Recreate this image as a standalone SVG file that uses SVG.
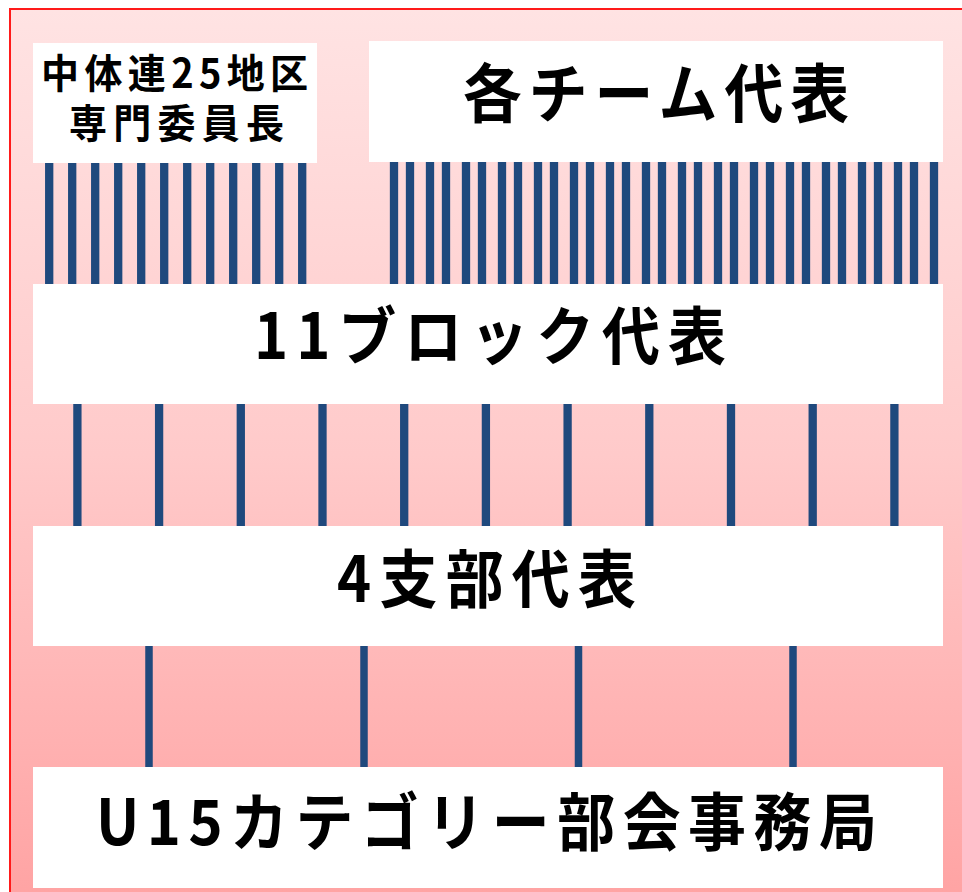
<svg xmlns="http://www.w3.org/2000/svg" width="962" height="892" viewBox="0 0 962 892">
  <defs>
    <linearGradient id="bg" x1="0" y1="0" x2="0" y2="1">
      <stop offset="0" stop-color="#FFE3E3"/>
      <stop offset="0.5" stop-color="#FFCACA"/>
      <stop offset="1" stop-color="#FFA3A3"/>
    </linearGradient>
  </defs>
  <style>
    .box { fill: #FFFFFF; }
    .lbl { font-family: "Noto Sans CJK JP", "Noto Sans", sans-serif; font-weight: 700; fill: #000000; }
    .conn line { stroke: #1F497D; }
    .thick { stroke-width: 8.3; }
  </style>
  <rect x="10" y="9" width="962" height="892" fill="url(#bg)" stroke="#FF1A1A" stroke-width="2"/>

  <g id="connectors" class="conn">
    <g class="thick">
      <line x1="49.2" y1="160" x2="49.2" y2="286"/>
      <line x1="72.2" y1="160" x2="72.2" y2="286"/>
      <line x1="95.2" y1="160" x2="95.2" y2="286"/>
      <line x1="118.2" y1="160" x2="118.2" y2="286"/>
      <line x1="141.2" y1="160" x2="141.2" y2="286"/>
      <line x1="164.2" y1="160" x2="164.2" y2="286"/>
      <line x1="187.2" y1="160" x2="187.2" y2="286"/>
      <line x1="210.2" y1="160" x2="210.2" y2="286"/>
      <line x1="233.2" y1="160" x2="233.2" y2="286"/>
      <line x1="256.2" y1="160" x2="256.2" y2="286"/>
      <line x1="279.2" y1="160" x2="279.2" y2="286"/>
      <line x1="302.2" y1="160" x2="302.2" y2="286"/>

      <line x1="394" y1="160" x2="394" y2="286"/>
      <line x1="410" y1="160" x2="410" y2="286"/>
      <line x1="430" y1="160" x2="430" y2="286"/>
      <line x1="446" y1="160" x2="446" y2="286"/>
      <line x1="466" y1="160" x2="466" y2="286"/>
      <line x1="482" y1="160" x2="482" y2="286"/>
      <line x1="502" y1="160" x2="502" y2="286"/>
      <line x1="518" y1="160" x2="518" y2="286"/>
      <line x1="538" y1="160" x2="538" y2="286"/>
      <line x1="554" y1="160" x2="554" y2="286"/>
      <line x1="574" y1="160" x2="574" y2="286"/>
      <line x1="590" y1="160" x2="590" y2="286"/>
      <line x1="610" y1="160" x2="610" y2="286"/>
      <line x1="626" y1="160" x2="626" y2="286"/>
      <line x1="646" y1="160" x2="646" y2="286"/>
      <line x1="662" y1="160" x2="662" y2="286"/>
      <line x1="682" y1="160" x2="682" y2="286"/>
      <line x1="698" y1="160" x2="698" y2="286"/>
      <line x1="718" y1="160" x2="718" y2="286"/>
      <line x1="734" y1="160" x2="734" y2="286"/>
      <line x1="754" y1="160" x2="754" y2="286"/>
      <line x1="770" y1="160" x2="770" y2="286"/>
      <line x1="790" y1="160" x2="790" y2="286"/>
      <line x1="806" y1="160" x2="806" y2="286"/>
      <line x1="826" y1="160" x2="826" y2="286"/>
      <line x1="842" y1="160" x2="842" y2="286"/>
      <line x1="862" y1="160" x2="862" y2="286"/>
      <line x1="878" y1="160" x2="878" y2="286"/>
      <line x1="898" y1="160" x2="898" y2="286"/>
      <line x1="914" y1="160" x2="914" y2="286"/>
      <line x1="934" y1="160" x2="934" y2="286"/>

      <line x1="77.4" y1="402" x2="77.4" y2="528"/>
      <line x1="159.1" y1="402" x2="159.1" y2="528"/>
      <line x1="240.8" y1="402" x2="240.8" y2="528"/>
      <line x1="322.5" y1="402" x2="322.5" y2="528"/>
      <line x1="404.2" y1="402" x2="404.2" y2="528"/>
      <line x1="485.9" y1="402" x2="485.9" y2="528"/>
      <line x1="567.6" y1="402" x2="567.6" y2="528"/>
      <line x1="649.3" y1="402" x2="649.3" y2="528"/>
      <line x1="731" y1="402" x2="731" y2="528"/>
      <line x1="812.7" y1="402" x2="812.7" y2="528"/>
      <line x1="894.4" y1="402" x2="894.4" y2="528"/>
    </g>
    <g stroke-width="7.5">
      <line x1="149" y1="644" x2="149" y2="769"/>
      <line x1="364" y1="644" x2="364" y2="769"/>
      <line x1="578.5" y1="644" x2="578.5" y2="769"/>
      <line x1="793" y1="644" x2="793" y2="769"/>
    </g>
  </g>

  <g id="node-chutairen">
    <rect class="box" x="33" y="43" width="284" height="120"/>
    <text class="lbl" font-size="40" transform="scale(0.95,1)" x="43.2" y="88.5" textLength="281.1" lengthAdjust="spacing">中体連25地区</text>
    <text class="lbl" font-size="40" transform="scale(0.95,1)" x="72.6" y="138.5" textLength="226.3" lengthAdjust="spacing">専門委員長</text>
  </g>

  <g id="node-teams">
    <rect class="box" x="369" y="41" width="574" height="121"/>
    <text class="lbl" font-size="64" transform="scale(0.92,1)" x="503.3" y="116.8" textLength="419.6" lengthAdjust="spacing">各チーム代表</text>
  </g>

  <g id="node-block">
    <rect class="box" x="33" y="284" width="910" height="120"/>
    <text class="lbl" font-size="63" transform="scale(0.92,1)" x="276.1" y="359.5" textLength="513" lengthAdjust="spacing">11ブロック代表</text>
  </g>

  <g id="node-branch">
    <rect class="box" x="33" y="526" width="910" height="120"/>
    <text class="lbl" font-size="63" transform="scale(0.92,1)" x="366.3" y="601.6" textLength="325" lengthAdjust="spacing">4支部代表</text>
  </g>

  <g id="node-office">
    <rect class="box" x="33" y="767" width="910" height="121"/>
    <text class="lbl" font-size="63" transform="scale(0.92,1)" x="104.3" y="844.7" textLength="848.9" lengthAdjust="spacing">U15カテゴリー部会事務局</text>
  </g>
</svg>
